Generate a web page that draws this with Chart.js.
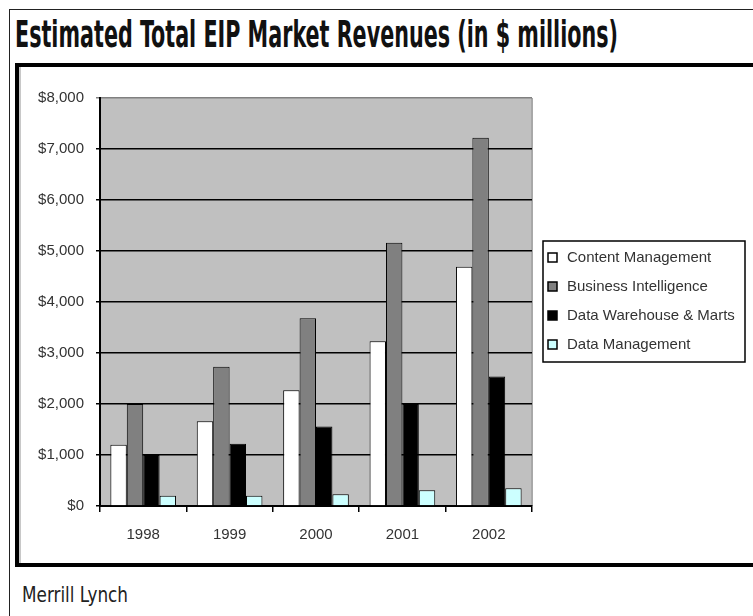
<!DOCTYPE html>
<html lang="en">
<head>
<meta charset="UTF-8">
<title>Estimated Total EIP Market Revenues</title>
<style>
  body {
    margin: 0;
    width: 753px;
    height: 616px;
    overflow: hidden;
    position: relative;
    background: #fff;
  }
  #outer {
    position: absolute;
    left: 9px;
    top: 9px;
    right: 0;
    bottom: 0;
    border-left: 1px solid #222;
    border-top: 1px solid #222;
  }
  .heading {
    position: absolute;
    white-space: nowrap;
    font-family: "Liberation Sans Narrow", "DejaVu Sans Condensed", "Liberation Sans", sans-serif;
    font-weight: bold;
    color: #111;
    transform-origin: left top;
  }
  #title { left: 15px; top: 15px; font-size: 38px; line-height: 38px; }
  #source { left: 22px; top: 584px; font-size: 22px; line-height: 22px; color: #222; font-weight: normal; }
  #frame {
    position: absolute;
    left: 15px;
    top: 63px;
    width: 760px;
    height: 496px;
    border: 4px solid #000;
    box-shadow: inset 2px 0 0 #c8c8c8;
  }
  #frame canvas { position: absolute; left: 0; top: 0; }
</style>
</head>
<body>
<div id="outer"></div>
<div id="title" class="heading" data-w="603">Estimated Total EIP Market Revenues (in $ millions)</div>
<div id="frame"><canvas id="eip-chart" width="734" height="496"></canvas></div>
<div id="source" class="heading" data-w="106">Merrill Lynch</div>

<script src="https://cdn.jsdelivr.net/npm/chart.js"></script>
<script>
const years = ['1998', '1999', '2000', '2001', '2002'];
const contentMgmt = [1200, 1660, 2270, 3230, 4690];
const businessIntel = [2000, 2730, 3680, 5160, 7220];
const dataWarehouse = [1000, 1220, 1560, 2000, 2540];
const dataMgmt = [200, 200, 230, 310, 350];
const yTicks = [0, 1000, 2000, 3000, 4000, 5000, 6000, 7000, 8000];

// squeeze the condensed headings to the width they have in the picture
document.querySelectorAll('.heading').forEach(el => {
    const w = el.getBoundingClientRect().width;
    el.style.transform = `scaleX(${el.dataset.w / w})`;
});

const labelFont = { family: '"Liberation Sans", Arial, sans-serif', size: 15 };

const plotBg = {
    id: 'plotBg',
    beforeDraw(chart) {
        const { ctx, chartArea: a } = chart;
        ctx.save();
        ctx.fillStyle = '#c0c0c0';
        ctx.fillRect(a.left, a.top, a.right - a.left, a.bottom - a.top);
        ctx.strokeStyle = '#a8a8a8';
        ctx.lineWidth = 2;
        ctx.beginPath();
        ctx.moveTo(a.right, a.top);
        ctx.lineTo(a.right, a.bottom);
        ctx.stroke();
        ctx.restore();
    }
};

const boxLegend = {
    id: 'boxLegend',
    afterDraw(chart) {
        const ctx = chart.ctx;
        const left = 524, top = 174, width = 202, rowH = 29;
        const sets = chart.data.datasets;
        ctx.save();
        ctx.fillStyle = '#fff';
        ctx.fillRect(left, top, width, rowH * sets.length + 5);
        ctx.strokeStyle = '#000';
        ctx.lineWidth = 1.5;
        ctx.strokeRect(left, top, width, rowH * sets.length + 5);
        ctx.font = `15px ${labelFont.family}`;
        ctx.textBaseline = 'middle';
        sets.forEach((ds, i) => {
            const y = top + 17 + i * rowH;
            ctx.fillStyle = ds.backgroundColor;
            ctx.fillRect(left + 5, y - 5, 9, 9);
            ctx.strokeStyle = '#000';
            ctx.lineWidth = 1.5;
            ctx.strokeRect(left + 5, y - 5, 9, 9);
            ctx.fillStyle = '#333';
            ctx.fillText(ds.label, left + 24, y);
        });
        ctx.restore();
    }
};

const chart = new Chart(document.getElementById('eip-chart'), {
    type: 'bar',
    data: {
        labels: years,
        datasets: [
            { label: 'Content Management', data: contentMgmt, backgroundColor: '#ffffff' },
            { label: 'Business Intelligence', data: businessIntel, backgroundColor: '#808080' },
            { label: 'Data Warehouse & Marts', data: dataWarehouse, backgroundColor: '#000000' },
            { label: 'Data Management', data: dataMgmt, backgroundColor: '#ccffff' }
        ]
    },
    options: {
        responsive: false,
        animation: false,
        layout: { padding: { top: 31, right: 221, left: 0, bottom: 0 } },
        datasets: {
            bar: { categoryPercentage: 0.76, barPercentage: 1, borderColor: '#000', borderWidth: 1 }
        },
        plugins: {
            legend: { display: false },
            tooltip: { enabled: false }
        },
        scales: {
            x: {
                grid: { drawOnChartArea: false, tickLength: 6, color: '#000', lineWidth: 1.5 },
                border: { color: '#000', width: 2 },
                ticks: { color: '#333', font: labelFont, padding: 14 },
                afterFit(s) { s.height = 57; }
            },
            y: {
                min: 0,
                max: 8000,
                afterBuildTicks(s) { s.ticks = yTicks.map(v => ({ value: v })); },
                ticks: {
                    color: '#333',
                    font: labelFont,
                    padding: 12,
                    callback: v => '$' + v.toLocaleString('en-US')
                },
                grid: {
                    tickLength: 4,
                    lineWidth: 1.5,
                    color: c => (c.tick && c.tick.value === 8000 ? '#808080' : '#000')
                },
                border: { color: '#000', width: 2 },
                afterFit(s) { s.width = 81; }
            }
        }
    },
    plugins: [plotBg, boxLegend]
});
</script>
</body>
</html>
